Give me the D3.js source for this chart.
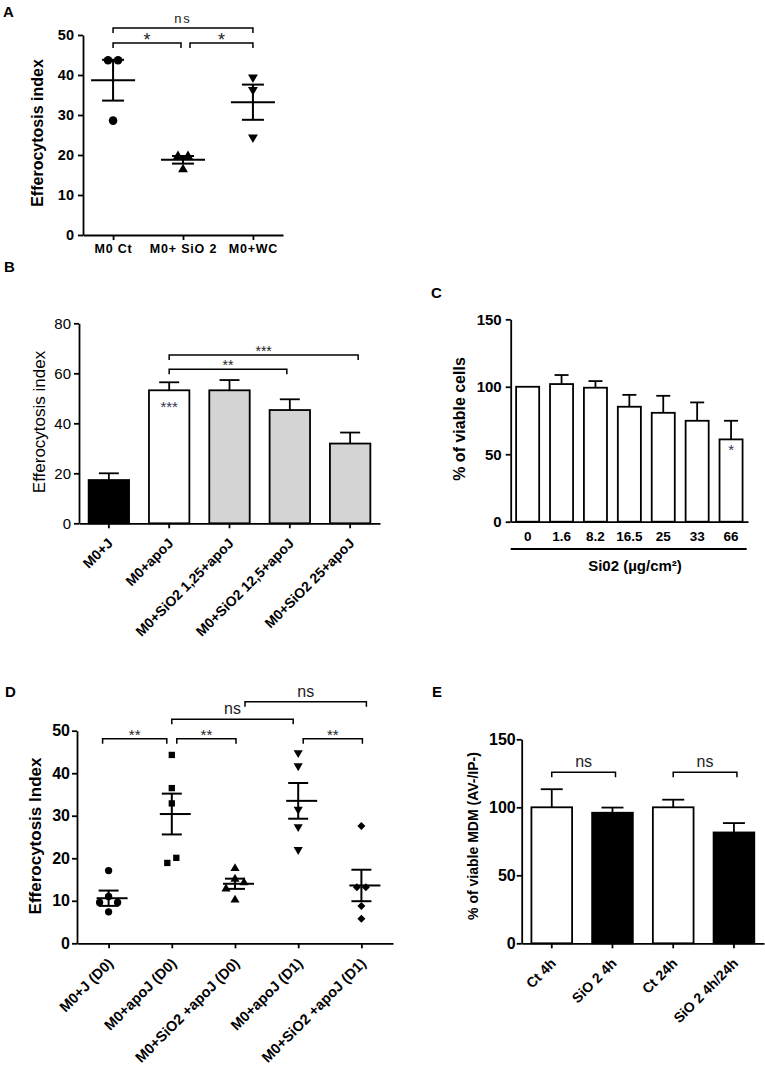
<!DOCTYPE html>
<html>
<head>
<meta charset="utf-8">
<script src="https://cdn.jsdelivr.net/npm/d3@7"></script>
<style>
body{margin:0;background:#fff;}
</style>
</head>
<body>
<div id="chart"></div>
<script>
// panel A
var groupsA = ["M0 Ct", "M0+ SiO 2", "M0+WC"];
var pointsA = [[43.7, 43.7, 28.6], [19.7, 19.7, 16.4], [39.4, 36.3, 24.4]];
var meanA = [38.7, 18.8, 33.2];
var semA = [5.1, 0.95, 4.4];
var ticksA = [0, 10, 20, 30, 40, 50];
var compA = [[0, 2, "ns"], [0, 1, "*"], [1, 2, "*"]];

// panel B
var groupsB = ["M0+J", "M0+apoJ", "M0+SiO2 1,25+apoJ", "M0+SiO2 12,5+apoJ", "M0+SiO2 25+apoJ"];
var valuesB = [17.3, 53.2, 53.2, 45.3, 31.9];
var errB = [2.7, 3.2, 4.1, 4.3, 4.4];
var ticksB = [0, 20, 40, 60, 80];
var compB = [[1, 4, "***"], [1, 3, "**"]];

// panel C
var dosesC = ["0", "1.6", "8.2", "16.5", "25", "33", "66"];
var viableC = [100, 102, 99.3, 85.2, 80.7, 74.8, 61];
var errC = [0, 6.7, 4.9, 8.8, 12.6, 13.6, 13.8];
var ticksC = [0, 50, 100, 150];

// panel D
var groupsD = ["M0+J (D0)", "M0+apoJ (D0)", "M0+SiO2 +apoJ (D0)", "M0+apoJ (D1)", "M0+SiO2 +apoJ (D1)"];
var pointsD = [
	[17.1, 11.0, 9.6, 9.6, 7.4],
	[44.3, 36.5, 32.9, 20.1, 18.9],
	[17.6, 15.1, 14.3, 12.8, 10.2],
	[44.8, 41.7, 31.5, 27.4, 22.0],
	[27.6, 13.2, 13.2, 8.8, 5.8]
];
var meanD = [10.6, 30.4, 14.0, 33.5, 13.6];
var semD = [1.8, 4.8, 1.2, 4.2, 3.7];
var ticksD = [0, 10, 20, 30, 40, 50];
var compD = [[0, 1, "**"], [1, 2, "**"], [3, 4, "**"], [1, 3, "ns"], [2, 4, "ns"]];

// panel E
var groupsE = ["Ct 4h", "SiO 2 4h", "Ct 24h", "SiO 2 4h/24h"];
var viableE = [100, 96, 100, 81.5];
var errE = [13.3, 3.8, 5.6, 6.9];
var ticksE = [0, 50, 100, 150];
var compE = [[0, 1, "ns"], [2, 3, "ns"]];

var svg = d3.select("#chart").append("svg")
	.attr("width", 765)
	.attr("height", 1067)
	.attr("font-family", "'Liberation Sans', Arial, sans-serif");

var styleAxis = function(g, fs, weight){
	g.attr("font-family", null).attr("font-size", fs);
	g.select(".domain").attr("stroke", "#000").attr("stroke-width", 1.8);
	g.selectAll(".tick line").attr("stroke", "#000").attr("stroke-width", 1.8);
	g.selectAll(".tick text").attr("fill", "#000").attr("font-weight", weight);
}

var rotateLabels = function(g){
	g.selectAll(".tick text")
		.attr("x", 0).attr("y", 0).attr("dy", 0)
		.attr("text-anchor", "end")
		.attr("transform", "translate(5,21) rotate(-45)");
}

var bracket = function(x1, x2, yLine, label, fs, spacing){
	svg.append("path")
		.attr("d", "M" + x1 + "," + (yLine + 5) + "V" + yLine + "H" + x2 + "V" + (yLine + 5))
		.attr("fill", "none").attr("stroke", "#000").attr("stroke-width", 1.5);
	var star = label.indexOf("*") >= 0;
	svg.append("text")
		.attr("x", (x1 + x2) / 2)
		.attr("y", star ? yLine + fs * 0.56 - 7 : yLine - 5)
		.attr("text-anchor", "middle")
		.attr("font-size", fs)
		.attr("letter-spacing", spacing || 0)
		.attr("fill", "#222")
		.text(label);
}

var yTitle = function(x, y, label, fs, weight){
	svg.append("text")
		.attr("transform", "translate(" + x + "," + y + ") rotate(-90)")
		.attr("text-anchor", "middle")
		.attr("font-size", fs)
		.attr("font-weight", weight)
		.text(label);
}

var panelLabel = function(x, y, label){
	svg.append("text").attr("x", x).attr("y", y)
		.attr("font-size", 15).attr("font-weight", "bold").text(label);
}

// spread overlapping points sideways like a column scatter
var spread = function(vals, y, w){
	var idx = vals.map(function(v, i){ return i; }).sort(function(a, b){ return vals[b] - vals[a]; });
	var rows = [], off = [];
	idx.forEach(function(i){
		var last = rows[rows.length - 1];
		if(last && Math.abs(y(vals[i]) - y(vals[last[last.length - 1]])) < w) last.push(i);
		else rows.push([i]);
	});
	rows.forEach(function(r){
		var n = r.length;
		var slots = r.map(function(d, k){ return k - (n - 1) / 2; })
			.sort(function(a, b){ return Math.abs(a) - Math.abs(b) || b - a; });
		r.forEach(function(i, k){ off[i] = slots[k] * w; });
	});
	return off;
}

var scatter = function(x, y, groups, points, means, sems, shapes, w, meanL, meanR, cap){
	groups.forEach(function(gname, gi){
		var cx = x(gname);
		var off = spread(points[gi], y, w);
		svg.selectAll(null).data(points[gi]).enter().append("path")
			.attr("d", d3.symbol().type(shapes[gi].type).size(shapes[gi].size))
			.attr("transform", function(d, i){
				return "translate(" + (cx + off[i]) + "," + y(d) + ") rotate(" + shapes[gi].rot + ")";
			})
			.attr("fill", "#000");
		var m = means[gi], s = sems[gi];
		svg.append("line").attr("x1", cx - meanL).attr("x2", cx + meanR)
			.attr("y1", y(m)).attr("y2", y(m)).attr("stroke", "#000").attr("stroke-width", 2);
		svg.append("line").attr("x1", cx).attr("x2", cx)
			.attr("y1", y(m + s)).attr("y2", y(m - s)).attr("stroke", "#000").attr("stroke-width", 2);
		[m + s, m - s].forEach(function(v){
			svg.append("line").attr("x1", cx - cap).attr("x2", cx + cap)
				.attr("y1", y(v)).attr("y2", y(v)).attr("stroke", "#000").attr("stroke-width", 2);
		});
	});
}

var bars = function(x, y, names, values, errs, fills, cap){
	svg.selectAll(null).data(values).enter().append("rect")
		.attr("x", function(d, i){ return x(names[i]); })
		.attr("width", x.bandwidth())
		.attr("y", function(d){ return y(d); })
		.attr("height", function(d){ return y(0) - y(d); })
		.attr("fill", function(d, i){ return fills[i]; })
		.attr("stroke", "#000")
		.attr("stroke-width", 1.8);
	values.forEach(function(v, i){
		if(!errs[i]) return;
		var cx = x(names[i]) + x.bandwidth() / 2;
		svg.append("line").attr("x1", cx).attr("x2", cx)
			.attr("y1", y(v)).attr("y2", y(v + errs[i])).attr("stroke", "#000").attr("stroke-width", 1.8);
		svg.append("line").attr("x1", cx - cap).attr("x2", cx + cap)
			.attr("y1", y(v + errs[i])).attr("y2", y(v + errs[i])).attr("stroke", "#000").attr("stroke-width", 1.8);
	});
}

// ---------- A ----------
var xA = d3.scalePoint().domain(groupsA).range([83, 283]).padding(0.43);
var yA = d3.scaleLinear().domain([0, 50]).range([235, 35]);
svg.append("g").attr("transform", "translate(83,0)")
	.call(d3.axisLeft(yA).tickValues(ticksA).tickSize(5).tickSizeOuter(0).tickPadding(4))
	.call(styleAxis, 14.5, "bold");
svg.append("g").attr("transform", "translate(0,235)")
	.call(d3.axisBottom(xA).tickSize(5).tickSizeOuter(0))
	.call(styleAxis, 12.5, "bold")
	.call(function(g){ g.selectAll(".tick text").attr("y", 9).attr("letter-spacing", 0.8); });
scatter(xA, yA, groupsA, pointsA, meanA, semA,
	[{type: d3.symbolCircle, rot: 0, size: 58}, {type: d3.symbolTriangle, rot: 0, size: 42}, {type: d3.symbolTriangle, rot: 180, size: 42}],
	10, 22, 22, 11);
var levA = [28, 43, 43];
compA.forEach(function(c, k){
	var a = xA(groupsA[c[0]]), b = xA(groupsA[c[1]]);
	if(c[2] == "*"){ if(c[0] == 1) a += 7; else b -= 2; }
	bracket(a, b, levA[k], c[2], c[2] == "ns" ? 13 : 18, c[2] == "ns" ? 2 : 0);
});
yTitle(43, 133, "Efferocytosis index", 16, "bold");
panelLabel(3, 17, "A");

// ---------- B ----------
var xB = d3.scaleBand().domain(groupsB).range([79, 380]).paddingInner(0.33).paddingOuter(0.16);
var yB = d3.scaleLinear().domain([0, 80]).range([523.3, 323.3]);
bars(xB, yB, groupsB, valuesB, errB, ["#000", "#fff", "#d4d4d4", "#d4d4d4", "#d4d4d4"], 10);
svg.append("g").attr("transform", "translate(79,0)")
	.call(d3.axisLeft(yB).tickValues(ticksB).tickSize(5).tickSizeOuter(0).tickPadding(3))
	.call(styleAxis, 15, "normal");
svg.append("g").attr("transform", "translate(0,523.3)")
	.call(d3.axisBottom(xB).tickSize(5).tickSizeOuter(0))
	.call(styleAxis, 14, "bold")
	.call(rotateLabels);
var levB = [67.3, 61.6];
compB.forEach(function(c, k){
	var cx = function(i){ return xB(groupsB[i]) + xB.bandwidth() / 2; };
	bracket(cx(c[0]), cx(c[1]) + (k == 0 ? 8 : -3), yB(levB[k]), c[2], 14);
});
svg.append("text").attr("x", xB(groupsB[1]) + xB.bandwidth() / 2).attr("y", yB(valuesB[1]) + 22)
	.attr("text-anchor", "middle").attr("font-size", 15).attr("fill", "#335").text("***");
yTitle(45, 422, "Efferocytosis index", 17, "normal");
panelLabel(4, 272, "B");

// ---------- C ----------
var xC = d3.scaleBand().domain(dosesC).range([510.7, 748]).paddingInner(0.32).paddingOuter(0.16);
var yC = d3.scaleLinear().domain([0, 150]).range([521.7, 319.3]);
bars(xC, yC, dosesC, viableC, errC, dosesC.map(function(){ return "#fff"; }), 7);
svg.append("g").attr("transform", "translate(510.7,0)")
	.call(d3.axisLeft(yC).tickValues(ticksC).tickSize(5).tickSizeOuter(0).tickPadding(4))
	.call(styleAxis, 15, "bold");
svg.append("g").attr("transform", "translate(0,521.7)")
	.call(d3.axisBottom(xC).tickSize(0).tickSizeOuter(0))
	.call(styleAxis, 13.5, "bold")
	.call(function(g){ g.selectAll(".tick text").attr("y", 10); });
svg.append("line").attr("x1", 510.7).attr("x2", 746.7).attr("y1", 549).attr("y2", 549)
	.attr("stroke", "#000").attr("stroke-width", 1.8);
svg.append("text").attr("x", 635).attr("y", 571).attr("text-anchor", "middle")
	.attr("font-size", 15).attr("font-weight", "bold").text("Si02 (µg/cm²)");
svg.append("text").attr("x", xC("66") + xC.bandwidth() / 2).attr("y", yC(viableC[6]) + 16)
	.attr("text-anchor", "middle").attr("font-size", 15).attr("fill", "#335").text("*");
yTitle(465, 419, "% of viable cells", 16, "bold");
panelLabel(431, 298, "C");

// ---------- D ----------
var xD = d3.scalePoint().domain(groupsD).range([77, 393]).padding(0.5);
var yD = d3.scaleLinear().domain([0, 50]).range([943.3, 730.7]);
svg.append("g").attr("transform", "translate(77,0)")
	.call(d3.axisLeft(yD).tickValues(ticksD).tickSize(5).tickSizeOuter(0).tickPadding(2))
	.call(styleAxis, 16, "bold");
svg.append("g").attr("transform", "translate(0,943.3)")
	.call(d3.axisBottom(xD).tickSize(5).tickSizeOuter(0))
	.call(styleAxis, 14.5, "bold")
	.call(rotateLabels);
scatter(xD, yD, groupsD, pointsD, meanD, semD,
	[{type: d3.symbolCircle, rot: 0, size: 42}, {type: d3.symbolSquare, rot: 0, size: 40}, {type: d3.symbolTriangle, rot: 0, size: 36},
	 {type: d3.symbolTriangle, rot: 180, size: 36}, {type: d3.symbolSquare, rot: 45, size: 32}],
	9, 12, 19, 10);
var levD = [48.1, 48.1, 48.1, 52.7, 56.8];
compD.forEach(function(c, k){
	var a = xD(groupsD[c[0]]), b = xD(groupsD[c[1]]);
	if(c[2] == "**"){ if(c[0] == 0){ a -= 6; b -= 5; } else { a += 5; b += 1; } }
	if(c[2] == "ns"){ if(c[0] == 2){ a += 10; b += 5; } else { b -= 5; } }
	bracket(a, b, yD(levD[k]), c[2], c[2] == "ns" ? 16 : 15);
});
yTitle(41, 836, "Efferocytosis Index", 17, "bold");
panelLabel(5, 697, "D");

// ---------- E ----------
var xE = d3.scaleBand().domain(groupsE).range([521.7, 764]).paddingInner(0.33).paddingOuter(0.16);
var yE = d3.scaleLinear().domain([0, 150]).range([943.3, 739.3]);
bars(xE, yE, groupsE, viableE, errE, ["#fff", "#000", "#fff", "#000"], 11);
svg.append("g").attr("transform", "translate(521.7,0)")
	.call(d3.axisLeft(yE).tickValues(ticksE).tickSize(5).tickSizeOuter(0).tickPadding(1))
	.call(styleAxis, 16, "bold");
svg.append("g").attr("transform", "translate(0,943.3)")
	.call(d3.axisBottom(xE).tickSize(5).tickSizeOuter(0))
	.call(styleAxis, 14, "bold")
	.call(rotateLabels);
compE.forEach(function(c){
	var cx = function(i){ return xE(groupsE[i]) + xE.bandwidth() / 2; };
	bracket(cx(c[0]), cx(c[1]) + 3, yE(125.7), c[2], 16);
});
yTitle(478, 836, "% of viable MDM (AV-/IP-)", 14, "bold");
panelLabel(432, 697, "E");
</script>
</body>
</html>
